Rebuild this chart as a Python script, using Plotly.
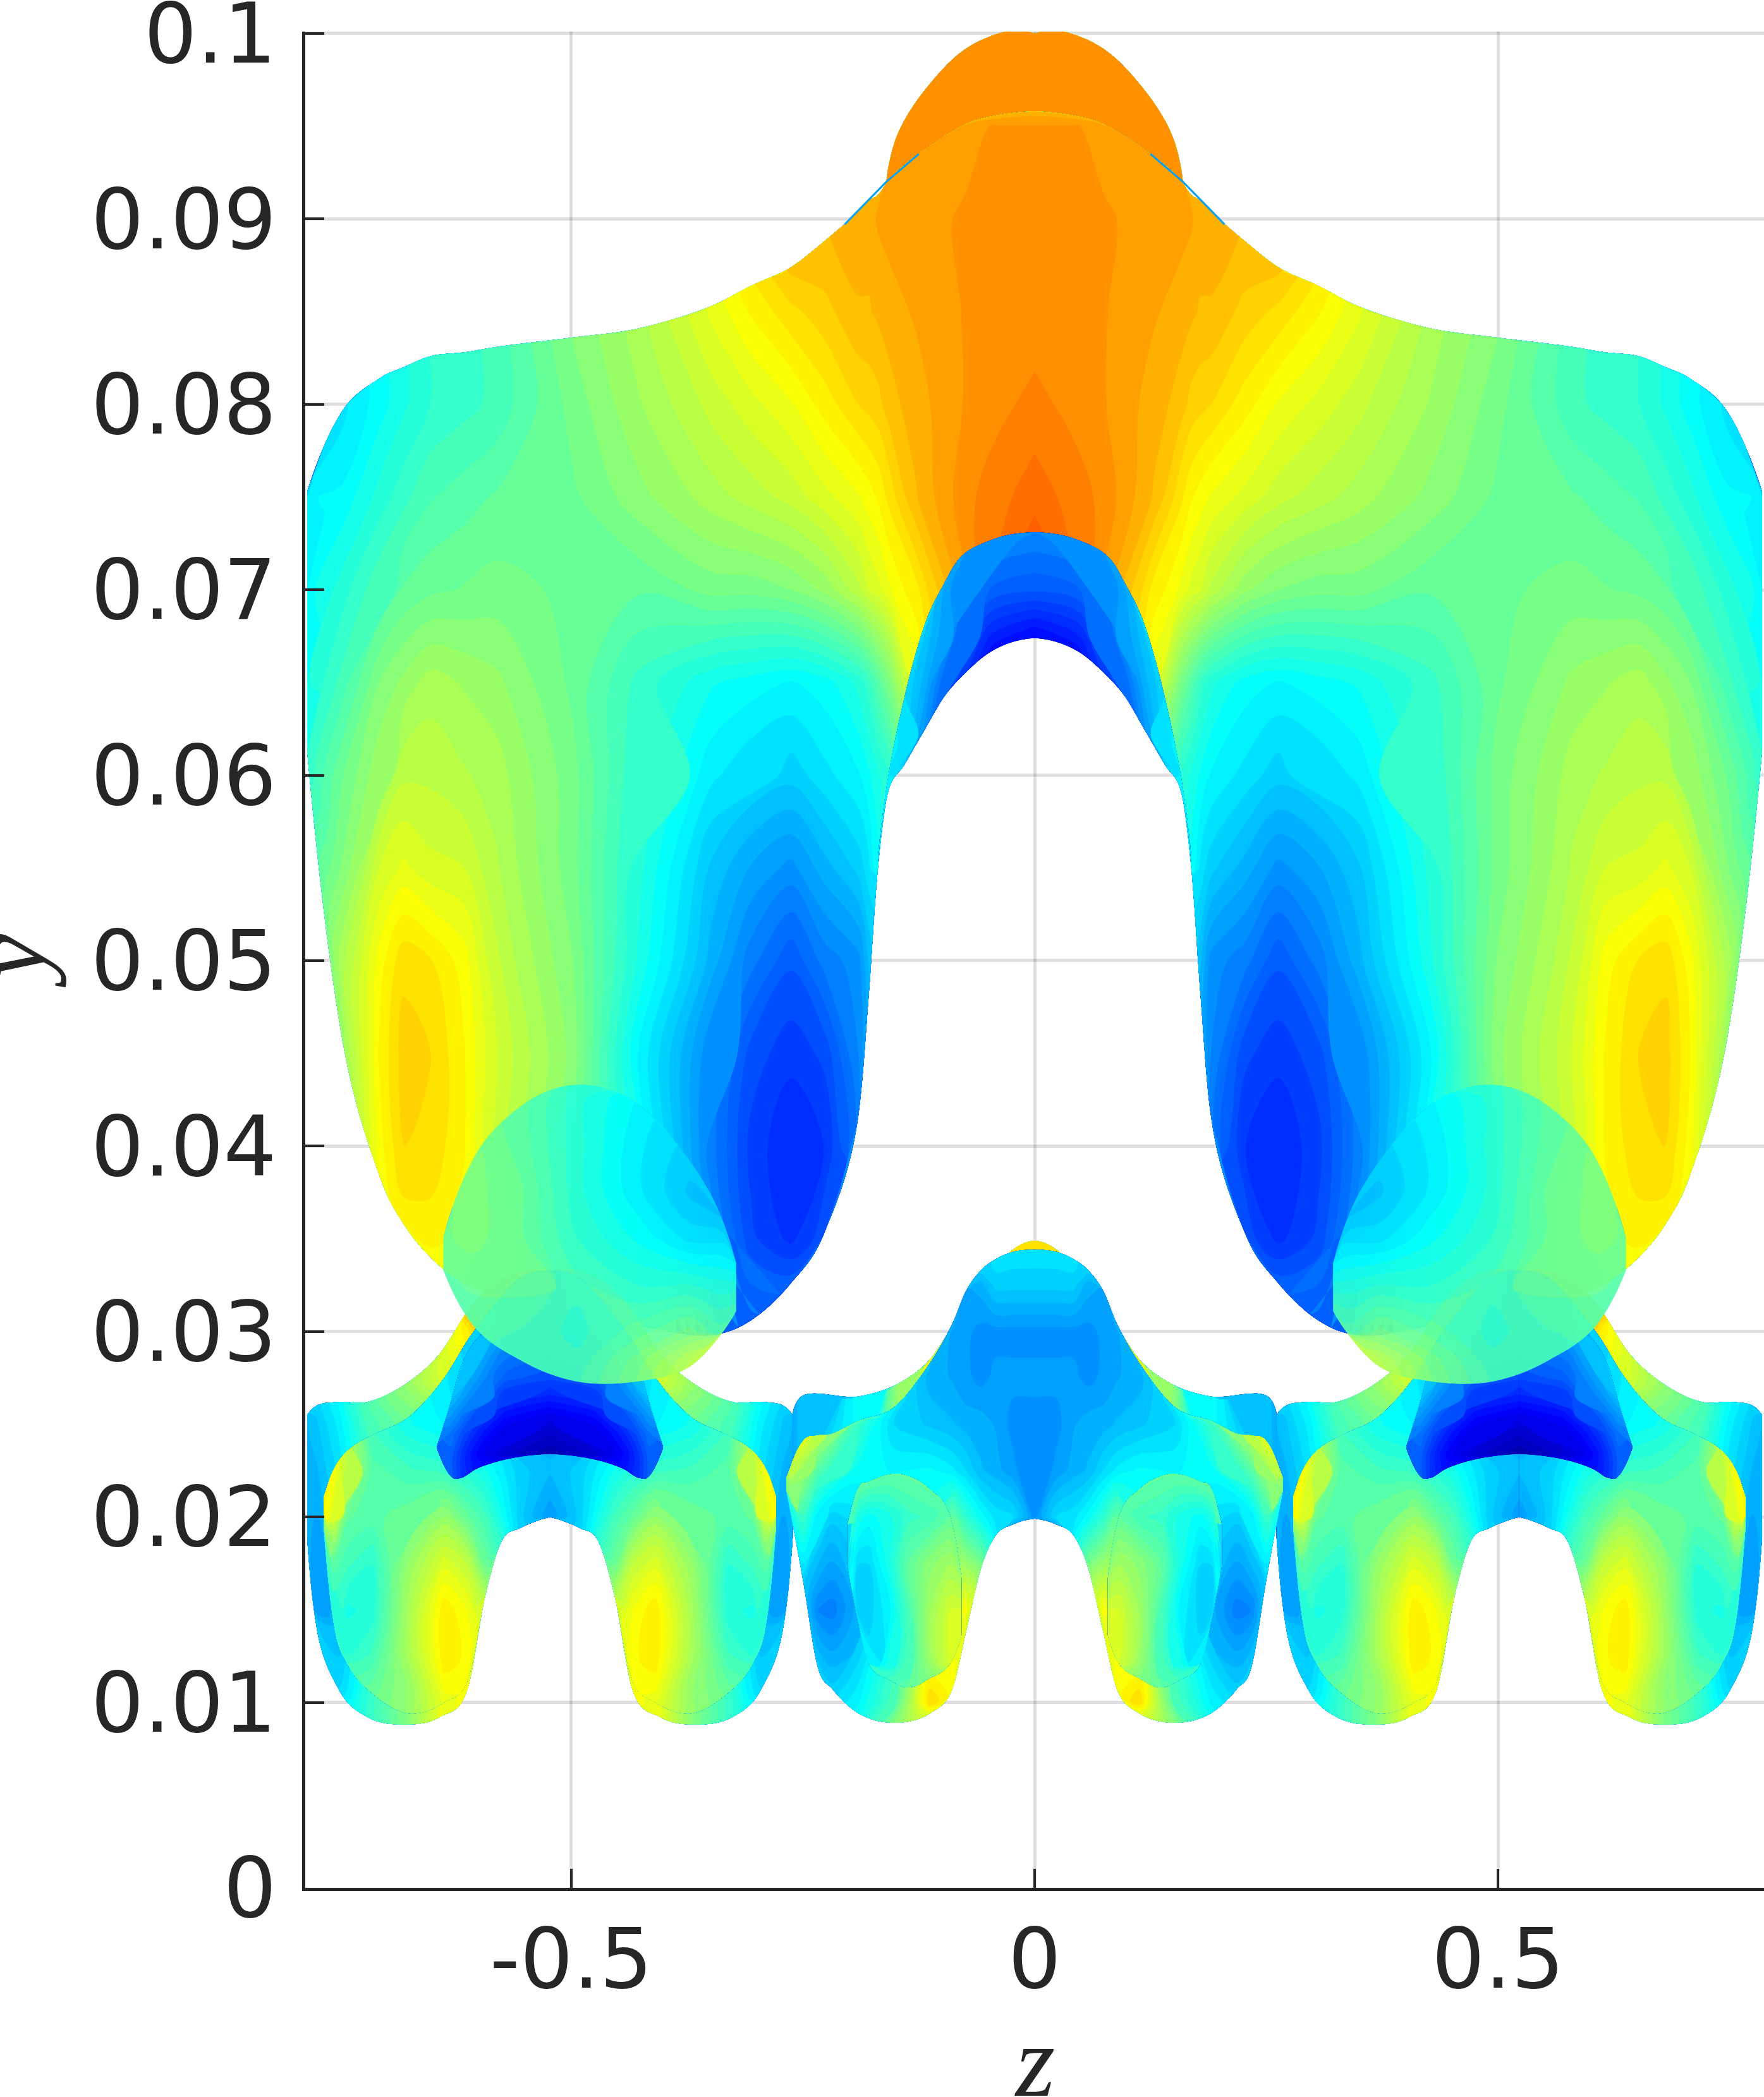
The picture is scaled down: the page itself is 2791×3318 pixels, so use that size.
import numpy as np
import plotly.graph_objects as go

# ---------- axes ----------
Z_TICKS = [-0.5, 0, 0.5]
Z_LABELS = ["-0.5", "0", "0.5"]
Y_TICKS = [0, 0.01, 0.02, 0.03, 0.04, 0.05, 0.06, 0.07, 0.08, 0.09, 0.1]
Y_LABELS = ["0", "0.01", "0.02", "0.03", "0.04", "0.05", "0.06", "0.07", "0.08", "0.09", "0.1"]
JET = [[0, "rgb(0,0,143)"], [0.125, "rgb(0,0,255)"], [0.375, "rgb(0,255,255)"],
       [0.625, "rgb(255,255,0)"], [0.875, "rgb(255,0,0)"], [1, "rgb(128,0,0)"]]

# ---------- upper swept sheet (left half, reflected about z = 0) ----------
wing_z = [-.785, -.749, -.707, -.681, -.652, -.616, -.580, -.499, -.427, -.349, -.306, -.263, -.227, -.190, -.179, -.169, -.156, -.128, -.075, -.039, 0]
wing_top = [.0753, .0795, .0814, .0820, .0826, .0828, .0831, .0836, .0841, .0853, .0864, .0874, .0888, .0904, .0910, .0913, .0922, .0934, .0951, .0956, .0958]
wing_bot = [.0613, .0463, .0384, .0358, .0340, .0326, .0319, .0308, .0303, .0298, .0306, .0326, .0353, .0417, .0481, .0550, .0598, .0632, .0668, .0678, .0684]
wing_y = [.029, .035, .04, .045, .05, .055, .06, .065, .07, .075, .08, .085, .09, .095, .1]
wing_c = [
    [.42, .52, .60, .62, .62, .61, .60, .50, .40, .28, .25, .22, .25, .28, .32, .36, .40, .45, .60, .65, .70],
    [.42, .52, .62, .635, .635, .62, .60, .50, .40, .27, .20, .175, .21, .25, .32, .36, .40, .45, .60, .65, .70],
    [.42, .52, .62, .66, .655, .63, .575, .50, .39, .25, .19, .165, .18, .25, .33, .36, .40, .45, .60, .65, .70],
    [.42, .52, .63, .667, .66, .63, .58, .51, .37, .26, .205, .185, .20, .26, .30, .36, .40, .50, .60, .65, .70],
    [.42, .54, .62, .655, .645, .62, .565, .50, .40, .30, .25, .215, .25, .27, .31, .36, .40, .50, .60, .65, .70],
    [.42, .50, .58, .60, .585, .58, .55, .49, .41, .32, .29, .27, .30, .33, .35, .38, .42, .55, .62, .67, .72],
    [.42, .48, .53, .56, .56, .55, .54, .49, .42, .36, .34, .33, .35, .37, .385, .40, .42, .55, .64, .68, .72],
    [.40, .44, .50, .52, .54, .53, .52, .48, .43, .39, .38, .37, .38, .41, .43, .46, .50, .60, .70, .72, .75],
    [.38, .41, .45, .47, .48, .485, .49, .48, .47, .49, .49, .50, .52, .56, .58, .59, .61, .64, .72, .76, .80],
    [.37, .375, .41, .43, .45, .46, .47, .48, .51, .54, .555, .57, .59, .61, .62, .63, .65, .69, .735, .75, .765],
    [.33, .35, .38, .40, .42, .43, .44, .49, .53, .57, .59, .61, .635, .66, .665, .67, .685, .70, .725, .735, .745],
    [.33, .35, .38, .40, .42, .43, .44, .50, .54, .60, .63, .655, .67, .69, .69, .695, .70, .71, .725, .73, .73],
    [.33, .35, .38, .40, .42, .43, .44, .50, .54, .60, .64, .68, .69, .70, .70, .71, .715, .72, .725, .725, .725],
    [.33, .35, .38, .40, .42, .43, .44, .50, .54, .60, .64, .68, .69, .70, .70, .705, .71, .715, .72, .725, .725],
    [.33, .35, .38, .40, .42, .43, .44, .50, .54, .60, .64, .68, .69, .70, .70, .70, .70, .70, .70, .70, .70],
]

# ---------- orange bump behind the sheet ----------
bump_z = [-.160, -.152, -.095, -.039, 0]
bump_top = [.0920, .0940, .0983, .1, .1]
bump_bot = [.088, .088, .088, .088, .088]
bump_y = [.088, .0945, .096, .1]
bump_c = [
    [.73, .73, .745, .745, .745],
    [.73, .73, .74, .745, .745],
    [.73, .73, .73, .73, .73],
    [.73, .73, .73, .73, .73],
]
sliver_z = [-.205, -.160, -.125]
sliver_y = [.0897, .0920, .0935]

# ---------- blue arch over the gap ----------
arch_z = [-.169, -.159, -.140, -.118, -.098, -.081, -.046, 0]
arch_top = [.0557, .0596, .0643, .0682, .0703, .0717, .0727, .0731]
arch_bot = [.0553, .0589, .0606, .0625, .0642, .0652, .0667, .0674]
arch_y = [.055, .06, .0625, .065, .0675, .07, .0725, .0735]
arch_c = [
    [.36, .36, .35, .20, .20, .20, .20, .20],
    [.36, .36, .33, .25, .20, .20, .20, .20],
    [.38, .38, .34, .27, .18, .16, .14, .13],
    [.38, .38, .34, .30, .23, .19, .14, .13],
    [.38, .38, .36, .32, .28, .23, .16, .13],
    [.38, .38, .36, .33, .29, .26, .225, .215],
    [.38, .38, .36, .33, .30, .28, .26, .25],
    [.38, .38, .36, .34, .31, .28, .27, .26],
]

# ---------- bean (left copy, reflected) ----------
bean_z = [-.638, -.607, -.553, -.494, -.429, -.372, -.339, -.322]
bean_top = [.0351, .0392, .0422, .0433, .0423, .0392, .0363, .0337]
bean_bot = [.0333, .0304, .0284, .0273, .0273, .0281, .0298, .0311]
bean_y = [.0273, .0285, .03, .0325, .035, .0375, .04, .0425, .0433]
bean_c = [
    [.46, .46, .44, .45, .50, .56, .55, .52],
    [.46, .46, .44, .44, .49, .55, .52, .50],
    [.46, .46, .45, .43, .46, .49, .46, .45],
    [.47, .47, .47, .44, .42, .42, .41, .41],
    [.48, .49, .47, .42, .385, .35, .35, .37],
    [.48, .49, .47, .41, .36, .32, .32, .34],
    [.48, .49, .46, .41, .36, .33, .33, .34],
    [.48, .48, .46, .41, .37, .33, .33, .34],
    [.48, .48, .46, .41, .37, .33, .33, .34],
]

# ---------- outer lower cell, half of it (reflected about cell_z) ----------
cell_z = -.523
back_z = [-.785, -.775, -.751, -.720, -.678, -.642, -.612, -.593, -.575, -.555, -.523]
back_top = [.0255, .0260, .0262, .0262, .0272, .0288, .0311, .0322, .0329, .0333, .0333]
back_bot = [.0189, .0141, .0107, .0092, .0088, .0092, .0107, .0157, .0187, .0194, .0200]
back_y = [.0088, .01, .015, .02, .025, .0275, .03, .0335]
back_c = [
    [.33, .33, .36, .42, .50, .60, .62, .50, .40, .32, .30],
    [.33, .33, .34, .42, .50, .60, .62, .52, .42, .33, .30],
    [.30, .28, .30, .40, .48, .58, .62, .52, .42, .33, .30],
    [.30, .29, .33, .40, .46, .50, .50, .46, .40, .33, .30],
    [.31, .32, .36, .44, .48, .50, .45, .38, .30, .25, .20],
    [.33, .33, .37, .45, .52, .58, .60, .62, .60, .50, .40],
    [.33, .33, .35, .375, .50, .58, .64, .70, .70, .70, .70],
    [.33, .33, .35, .375, .50, .58, .68, .70, .70, .70, .70],
]
front_z = [-.767, -.756, -.741, -.715, -.675, -.637, -.611, -.593, -.575, -.555, -.523]
front_top = [.0211, .0226, .0236, .0244, .0254, .0275, .0296, .0308, .0319, .0329, .0333]
front_bot = [.0193, .0141, .0120, .0105, .0094, .0100, .0113, .0157, .0187, .0194, .0200]
front_y = [.0094, .011, .0125, .015, .0175, .02, .0225, .025, .03, .0335]
front_c = [
    [.44, .44, .44, .48, .52, .60, .62, .50, .40, .33, .30],
    [.42, .42, .44, .47, .52, .62, .61, .55, .42, .33, .30],
    [.42, .41, .42, .44, .54, .64, .62, .58, .42, .33, .30],
    [.44, .42, .40, .41, .54, .64, .61, .55, .42, .33, .30],
    [.50, .46, .44, .42, .52, .59, .56, .48, .42, .33, .30],
    [.64, .58, .47, .46, .48, .52, .47, .44, .39, .33, .28],
    [.64, .62, .55, .46, .44, .43, .41, .39, .36, .33, .31],
    [.64, .62, .56, .44, .39, .37, .35, .34, .32, .30, .30],
    [.64, .62, .56, .44, .39, .36, .33, .32, .30, .28, .27],
    [.64, .62, .56, .44, .39, .36, .33, .32, .30, .28, .27],
]
crown_z = [-.645, -.630, -.619, -.602, -.571, -.523]
crown_top = [.0238, .0262, .0281, .0296, .0304, .0308]
crown_bot = [.0237, .0222, .0221, .0226, .0231, .0234]
crown_y = [.0221, .0234, .0245, .0255, .0265, .0275, .03, .0315]
crown_c = [
    [.22, .22, .18, .14, .11, .08],
    [.22, .22, .18, .13, .08, .04],
    [.22, .24, .21, .16, .10, .07],
    [.24, .28, .25, .20, .14, .11],
    [.26, .30, .29, .25, .18, .16],
    [.30, .32, .31, .28, .22, .20],
    [.34, .34, .33, .31, .28, .26],
    [.34, .34, .33, .31, .28, .26],
]

# ---------- central lower cell ----------
rim_z = [-.261, -.254, -.190, -.147, -.113, -.085, -.053, -.024, 0]
rim_top = [.0256, .0264, .0265, .0272, .0285, .0306, .0328, .0344, .0349]
rim_bot = [.0225, .0225, .0225, .0225, .0225, .0225, .0225, .0225, .0225]
rim_y = [.0225, .035]
rim_c = [
    [.30, .31, .38, .52, .60, .63, .65, .65, .65],
    [.30, .31, .38, .52, .60, .63, .65, .65, .65],
]
body_z = [-.268, -.250, -.234, -.218, -.190, -.152, -.113, -.089, -.074, -.058, -.042, -.023, 0]
body_top = [.0221, .0241, .0244, .0245, .0252, .0259, .0283, .0304, .0322, .0333, .0339, .0343, .0344]
body_bot = [.0214, .0166, .0119, .0107, .0094, .0089, .0094, .0107, .0138, .0172, .0190, .0196, .0199]
body_y = [.0089, .01, .015, .02, .0225, .025, .0275, .03, .0325, .0344]
body_c = [
    [.33, .33, .33, .33, .38, .50, .60, .62, .55, .40, .33, .30, .30],
    [.33, .34, .33, .33, .37, .45, .66, .62, .58, .42, .33, .30, .30],
    [.40, .33, .26, .25, .30, .42, .55, .60, .62, .50, .36, .30, .28],
    [.50, .43, .36, .33, .35, .40, .40, .47, .42, .38, .35, .34, .27],
    [.55, .52, .46, .42, .38, .37, .375, .36, .34, .31, .30, .28, .26],
    [.55, .60, .55, .50, .43, .34, .32, .31, .30, .30, .29, .27, .27],
    [.55, .60, .56, .52, .46, .36, .30, .29, .28, .27, .28, .28, .28],
    [.55, .60, .56, .52, .46, .36, .31, .29, .28, .27, .27, .27, .27],
    [.55, .60, .56, .52, .46, .36, .31, .30, .29, .30, .33, .33, .33],
    [.55, .60, .56, .52, .46, .36, .32, .31, .31, .33, .35, .35, .35],
]
oval_z = [-.202, -.190, -.179, -.156, -.136, -.113, -.091, -.079]
oval_top = [.0196, .0216, .0219, .0223, .0222, .0215, .0200, .0167]
oval_bot = [.0174, .0142, .0121, .0112, .0108, .0113, .0121, .0136]
oval_y = [.0108, .0121, .015, .0175, .02, .0223]
oval_c = [
    [.42, .42, .42, .44, .47, .50, .55, .55],
    [.35, .35, .35, .40, .45, .52, .58, .58],
    [.38, .33, .33, .37, .45, .53, .58, .58],
    [.40, .34, .34, .40, .47, .51, .53, .53],
    [.44, .40, .38, .40, .43, .44, .47, .50],
    [.47, .47, .47, .47, .47, .47, .48, .50],
]

fig = go.Figure()
count = [0]


def patch(z, top, bot, rows, c, opacity=1.0):
    """One curved sheet: a carpet mesh pinned to its outline, coloured by c."""
    z, top, bot, rows, c = map(lambda a: np.asarray(a, float), (z, top, bot, rows, c))
    n_r, n_c = c.shape
    Y = np.clip(rows[:, None], bot[None, :], top[None, :])
    Y[0, :] = bot
    Y[-1, :] = top
    X = np.tile(z, (n_r, 1))
    cid = "c%d" % count[0]
    count[0] += 1
    blank = dict(showgrid=False, showline=False, showticklabels="none", startline=False, endline=False,
                 minorgridcount=0, tickmode="array", tickvals=[])
    a, b = list(range(n_c)), list(range(n_r))
    fig.add_trace(go.Carpet(a=a, b=b, x=X, y=Y, carpet=cid,
                            aaxis=dict(blank, smoothing=1), baxis=dict(blank, smoothing=0)))
    fig.add_trace(go.Contourcarpet(
        a=a, b=b, z=c, carpet=cid, autocontour=False,
        contours=dict(start=0.0037, end=1, size=0.016, coloring="fill", showlines=False),
        line=dict(width=0), colorscale=JET, zmin=0, zmax=1, showscale=False, opacity=opacity))


def backwards(z, top, bot, rows, c):
    """Same sheet, columns listed from the seam outwards."""
    return z[::-1], top[::-1], bot[::-1], rows, [r[::-1] for r in c]


def reflect(z, top, bot, rows, c, about=0.0):
    """Reflection of a sheet about z = about, columns listed from the seam outwards."""
    return [2 * about - v for v in z[::-1]], top[::-1], bot[::-1], rows, [r[::-1] for r in c]


def shift(z, top, bot, rows, c, dz):
    return [v + dz for v in z], top, bot, rows, c


def both(sheet, opacity=1.0):
    patch(*backwards(*sheet), opacity=opacity)
    patch(*reflect(*sheet), opacity=opacity)


# back to front
both((bump_z, bump_top, bump_bot, bump_y, bump_c))
for sgn in (1, -1):
    fig.add_trace(go.Scatter(x=[sgn * v for v in sliver_z], y=sliver_y, mode="lines",
                             line=dict(color="#0aa0f0", width=3), hoverinfo="skip"))
both((wing_z, wing_top, wing_bot, wing_y, wing_c))
both((arch_z, arch_top, arch_bot, arch_y, arch_c))

for sheet in ((back_z, back_top, back_bot, back_y, back_c),
              (front_z, front_top, front_bot, front_y, front_c),
              (crown_z, crown_top, crown_bot, crown_y, crown_c)):
    own = backwards(*sheet)
    mate = reflect(*sheet, about=cell_z)
    patch(*own)
    patch(*mate)
    patch(*shift(*own, dz=-2 * cell_z))
    patch(*shift(*mate, dz=-2 * cell_z))

both((rim_z, rim_top, rim_bot, rim_y, rim_c))
both((body_z, body_top, body_bot, body_y, body_c))
both((oval_z, oval_top, oval_bot, oval_y, oval_c))
both((bean_z, bean_top, bean_bot, bean_y, bean_c), opacity=0.93)

TICK = "#262626"
GRID = "rgba(38,38,38,0.15)"
axis_common = dict(tickmode="array", ticks="inside", ticklen=30, tickwidth=4, tickcolor=TICK,
                   showline=True, linewidth=5, linecolor=TICK, showgrid=True, gridcolor=GRID, gridwidth=5,
                   zeroline=False, automargin=False, ticklabeloverflow="allow",
                   tickfont=dict(size=132, color=TICK, family="DejaVu Sans"))
fig.update_layout(
    width=2791, height=3318, autosize=False, showlegend=False,
    paper_bgcolor="white", plot_bgcolor="white",
    margin=dict(l=483, r=0, t=50, b=331, pad=0),
    font=dict(family="DejaVu Sans", color=TICK, size=132),
    xaxis=dict(axis_common, range=[-0.787, 0.787], tickvals=Z_TICKS, ticktext=Z_LABELS, ticklabelstandoff=-5),
    yaxis=dict(axis_common, range=[0, 0.1001], tickvals=Y_TICKS, ticktext=Y_LABELS, ticklabelstandoff=14),
    annotations=[
        dict(text="<i>z</i>", xref="x", x=0, yref="paper", y=0, yanchor="top", xanchor="center", yshift=-184,
             showarrow=False, font=dict(family="Liberation Serif", size=160, color=TICK)),
        dict(text="<i>y</i>", xref="paper", x=0, yref="y", y=0.05, yanchor="middle", xanchor="center", xshift=-466,
             textangle=-90, showarrow=False, font=dict(family="Liberation Serif", size=160, color=TICK)),
    ],
)
fig.write_html("out.html", post_script="document.body.style.margin='0';", config={"displayModeBar": False})
